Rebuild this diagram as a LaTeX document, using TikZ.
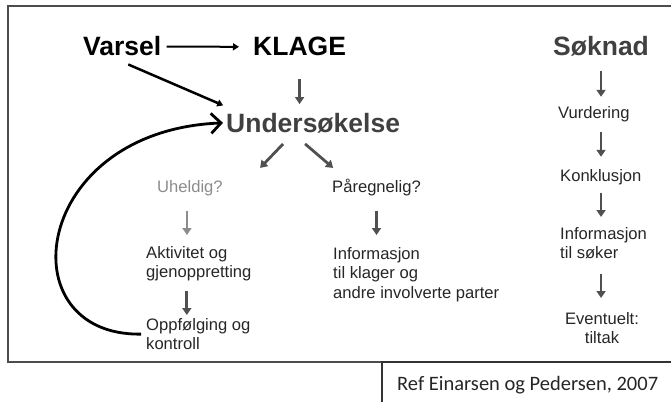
\documentclass[tikz,border=0pt]{standalone}
\usepackage{fontspec}
\setmainfont{Liberation Sans}
\newfontfamily\reffont{Carlito}
\usetikzlibrary{arrows.meta}

\definecolor{dgray}{HTML}{404040}
\definecolor{lgray}{HTML}{8C8C8C}
\definecolor{agray}{HTML}{505050}

\tikzset{
  bigtxt/.style={inner sep=0, anchor=base west, font=\fontsize{26.5}{30}\bfseries\selectfont},
  smalltxt/.style={inner sep=0, anchor=base west, font=\fontsize{16.6}{19}\selectfont, text=black!85},
  blocktxt/.style={inner sep=0, anchor=north west, align=left, font=\fontsize{16.6}{19.5}\selectfont, text=black!85},
  garrow/.style={draw=agray, line width=2.8pt, -{Triangle[length=7pt,width=9pt]}},
  blackarrow/.style={draw=black, line width=2.2pt, -{Triangle[length=6pt,width=7pt]}},
}

\begin{document}
\begin{tikzpicture}[x=1pt, y=-1pt]
	\useasboundingbox (0,0) rectangle (671,401);
	% outer frame
	\draw [black!70, line width=1.2pt] (8,6) rectangle (676,362);

	% top row
	\node [bigtxt] (varsel) at (83,56) {Varsel};
	\node [bigtxt] (klage) at (253,56) {KLAGE};
	\node [bigtxt, text=dgray] (unders) at (226,132) {Undersøkelse};
	\node [bigtxt, text=dgray] (soknad) at (553,56) {Søknad};

	% Varsel to KLAGE, Varsel to Undersokelse
	\draw [blackarrow, line width=2pt, shorten <=5pt, shorten >=14pt] (varsel.east) -- (klage.west);
	\draw [blackarrow, line width=2.5pt, shorten >=3pt] (varsel.south) ++(6,8) -- ([yshift=6pt]unders.north west);
	% KLAGE down
	\draw [garrow, shorten <=23pt, shorten >=8.5pt] (klage.south) -- (klage.south |- unders.north);

	% split
	\node [smalltxt, text=lgray] (uheldig) at (157,192) {Uheldig?};
	\node [smalltxt] (paregn) at (332,192) {Påregnelig?};
	\draw [garrow] (unders.south) ++(-30,11) -- ++(-23,24);
	\draw [garrow] (unders.south) ++(-8,11) -- ++(28,24);

	% left column
	\node [blocktxt] (aktiv) at (146,246) {Aktivitet og\\gjenoppretting};
	\node [blocktxt] (oppf) at (146,318) {Oppfølging og\\kontroll};
	\draw [garrow, draw=lgray, shorten <=15pt, shorten >=11pt] ([xshift=-3pt]uheldig.south) -- ([xshift=-3pt]uheldig.south |- aktiv.north);
	\draw [garrow, shorten <=10pt, shorten >=3pt] ([xshift=-12pt]aktiv.south) -- ([xshift=-12pt]aktiv.south |- oppf.north);

	% back to Undersokelse
	\draw [black, line width=2.8pt, -{Straight Barb[length=10pt,width=20pt]}, shorten <=5pt, shorten >=3pt]
		(oppf.west) .. controls +(-140,2) and +(-195,8) .. (unders.west);

	% middle column
	\node [blocktxt] (info) at (333,247) {Informasjon\\til klager og\\andre involverte parter};
	\draw [garrow, shorten <=15pt, shorten >=12pt] (paregn.south) -- (paregn.south |- info.north);

	% right column
	\node [smalltxt] (vurd) at (558,118) {Vurdering};
	\node [smalltxt] (konkl) at (560,181) {Konklusjon};
	\node [blocktxt] (infosok) at (560,227) {Informasjon\\til søker};
	\node [blocktxt, anchor=north, align=center] (tiltak) at (602,312) {Eventuelt:\\tiltak};
	\draw [garrow, shorten <=14pt, shorten >=9pt] (soknad.south) -- (soknad.south |- vurd.north);
	\draw [garrow, shorten <=10pt, shorten >=12pt] (soknad.south |- vurd.south) -- (soknad.south |- konkl.north);
	\draw [garrow, shorten <=8pt, shorten >=10pt] (soknad.south |- konkl.south) -- (soknad.south |- infosok.north);
	\draw [garrow, shorten <=15pt, shorten >=14pt] (soknad.south |- infosok.south) -- (soknad.south |- tiltak.north);

	% reference box
	\draw [black!80, line width=1.2pt] (382,410) -- (382,362) -- (676,362);
	\node [inner sep=0, anchor=base west, font=\reffont\fontsize{20.5}{24}\selectfont, text=black!85] (ref) at (397,390) {Ref Einarsen og Pedersen, 2007};
\end{tikzpicture}
\end{document}
